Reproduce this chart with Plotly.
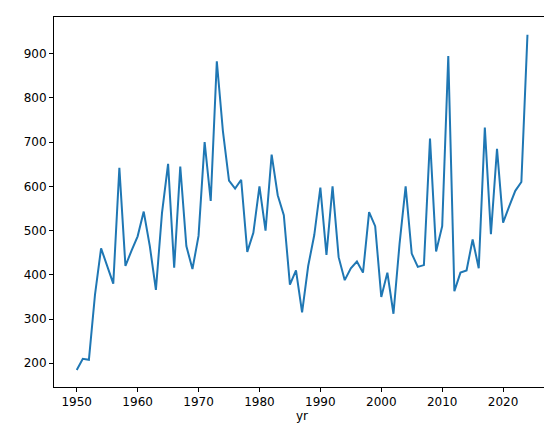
import plotly.graph_objects as go

years = list(range(1950, 2025))
values = [185, 210, 208, 355, 460, 420, 380, 642, 420, 455,
          487, 543, 465, 366, 540, 651, 416, 645, 465, 413,
          488, 700, 567, 883, 725, 613, 595, 615, 452, 495,
          600, 500, 672, 580, 535, 378, 410, 315, 420, 490,
          597, 445, 600, 440, 388, 415, 430, 405, 542, 510,
          350, 405, 312, 470, 600, 448, 418, 422, 708, 453,
          510, 895, 363, 405, 410, 480, 415, 733, 492, 685,
          518, 555, 590, 610, 943]

fig = go.Figure(go.Scatter(x=years, y=values, mode="lines",
                           line=dict(color="#1f77b4", width=2)))
axis = dict(showgrid=False, zeroline=False, showline=True, linecolor="black", linewidth=1,
            mirror=True, ticks="outside", ticklen=4, tickcolor="black", automargin=False,
            tickfont=dict(family="DejaVu Sans", size=12, color="black"))
fig.update_xaxes(range=[1946.27, 2027.7], tickvals=[1950, 1960, 1970, 1980, 1990, 2000, 2010, 2020],
                 title=dict(text="yr", font=dict(family="DejaVu Sans", size=12, color="black"), standoff=2), **axis)
fig.update_yaxes(range=[146.4, 983], tickvals=[200, 300, 400, 500, 600, 700, 800, 900], **axis)
fig.update_layout(width=552, height=432, margin=dict(l=46, r=10, t=9, b=53, autoexpand=False),
                  plot_bgcolor="white", paper_bgcolor="white", showlegend=False)
fig.write_html("out.html")
